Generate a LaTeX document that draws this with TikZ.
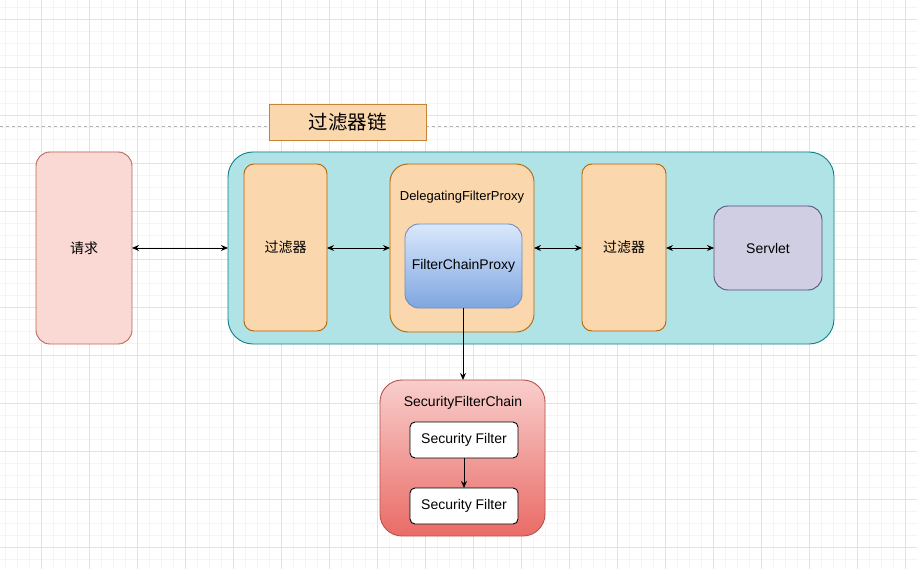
\documentclass[tikz,border=0pt]{standalone}
\usepackage{fontspec}
\setmainfont{Liberation Sans}
\newfontfamily\cjk{Noto Sans CJK SC}
\usetikzlibrary{arrows.meta}
\definecolor{gminor}{HTML}{F4F4F4}
\definecolor{gmajor}{HTML}{E2E2E2}
\definecolor{pinkfill}{HTML}{FAD9D5}
\definecolor{pinkline}{HTML}{AE4132}
\definecolor{orfill}{HTML}{FAD7AC}
\definecolor{orline}{HTML}{B46504}
\definecolor{tealfill}{HTML}{B0E3E6}
\definecolor{tealline}{HTML}{0E8088}
\definecolor{bluetop}{HTML}{DAE8FC}
\definecolor{bluebot}{HTML}{7EA6E0}
\definecolor{blueline}{HTML}{6C8EBF}
\definecolor{purfill}{HTML}{D0CEE2}
\definecolor{purline}{HTML}{56517E}
\definecolor{redtop}{HTML}{F8CECC}
\definecolor{redbot}{HTML}{EA6B66}
\definecolor{redline}{HTML}{B85450}
\tikzset{
  box/.style={draw, rounded corners=#1, line width=0.9pt, inner sep=0pt, outer sep=0pt},
  conn/.style={line width=0.9pt, {Stealth[length=7pt,width=6pt]}-{Stealth[length=7pt,width=6pt]}},
  oneway/.style={line width=0.9pt, -{Stealth[length=7pt,width=6pt]}},
  lbl/.style={font=\fontsize{14}{16}\selectfont, text=black},
  cjklbl/.style={font=\cjk\fontsize{14}{16}\selectfont, text=black},
}
\begin{document}
\begin{tikzpicture}[x=1pt,y=-1pt]
\useasboundingbox (0,0) rectangle (917,569);
\fill[white] (0,0) rectangle (917,569);
% grid
\foreach \i in {0,...,76} {\draw[gminor, line width=0.5pt] (5+12*\i,0) -- (5+12*\i,569);}
\foreach \j in {0,...,47} {\draw[gminor, line width=0.5pt] (0,7+12*\j) -- (917,7+12*\j);}
\foreach \i in {0,...,19} {\draw[gmajor, line width=0.8pt] (41+48*\i,0) -- (41+48*\i,569);}
\foreach \j in {0,...,11} {\draw[gmajor, line width=0.8pt] (0,19+48*\j) -- (917,19+48*\j);}
\coordinate (dl) at (0,126);
\coordinate (dr) at (917,126);
\draw[gray!60, dashed, line width=0.6pt] (dl) -- (dr);

% title
\node[box=0pt, draw=orline!80, fill=orfill, minimum width=157pt, minimum height=36pt, font=\cjk\fontsize{19.5}{22}\selectfont] (title) at (347.5,122) {过滤器链};

% request
\node[box=14pt, draw=pinkline!80, fill=pinkfill, minimum width=96pt, minimum height=192pt, cjklbl] (req) at (84,248) {请求};

% container
\node[box=25pt, draw=tealline, fill=tealfill, minimum width=606pt, minimum height=192pt] (cont) at (531,248) {};

% filters
\node[box=10pt, draw=orline, fill=orfill, minimum width=83pt, minimum height=167pt, cjklbl] (f1) at (285.5,247.5) {过滤器};
\node[box=18pt, draw=orline, fill=orfill, minimum width=144pt, minimum height=168pt] (dfp) at (462,248) {};
\node[font=\fontsize{13}{15}\selectfont, anchor=center] (dfpl) at (462,197) {DelegatingFilterProxy};
\node[box=14pt, draw=blueline, top color=bluetop, bottom color=bluebot, minimum width=117pt, minimum height=84pt, lbl] (fcp) at (463.5,266) {FilterChainProxy};
\node[box=10pt, draw=orline, fill=orfill, minimum width=84pt, minimum height=167pt, cjklbl] (f2) at (624,247.5) {过滤器};
\node[box=14pt, draw=purline, fill=purfill, minimum width=108pt, minimum height=84pt, lbl] (srv) at (768,248) {Servlet};

% security filter chain
\node[box=22pt, draw=redline, top color=redtop, bottom color=redbot, minimum width=165pt, minimum height=156pt] (sfc) at (462.5,458) {};
\node[lbl] (sfcl) at (463,403) {SecurityFilterChain};
\node[box=5pt, draw=black, fill=white, minimum width=108pt, minimum height=36pt, lbl] (sf1) at (464,440) {Security Filter};
\node[box=5pt, draw=black, fill=white, minimum width=108pt, minimum height=36pt, lbl] (sf2) at (464,506) {Security Filter};

% connectors
\draw[conn] (req.east |- 0,248) -- (cont.west |- 0,248);
\draw[conn] (f1.east |- 0,248) -- (dfp.west |- 0,248);
\draw[conn] (dfp.east |- 0,248) -- (f2.west |- 0,248);
\draw[conn] (f2.east |- 0,248) -- (srv.west |- 0,248);
\draw[oneway] (fcp.south -| 463,0) -- (sfc.north -| 463,0);
\draw[oneway] (sf1.south) -- (sf2.north);
\end{tikzpicture}
\end{document}
